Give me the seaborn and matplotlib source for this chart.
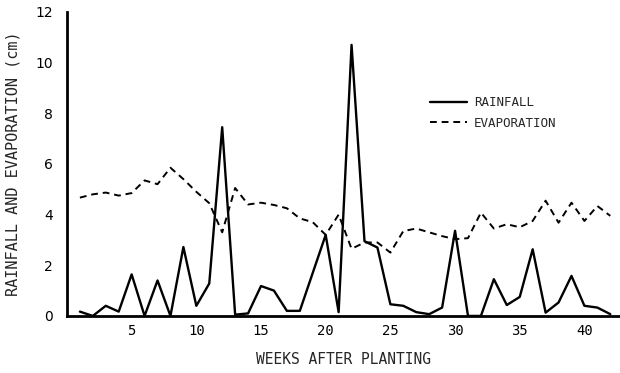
import numpy as np
import pandas as pd
import matplotlib
matplotlib.use("Agg")
import matplotlib.pyplot as plt
import seaborn as sns

weeks = list(range(1, 43))
rainfall = [0.17, 0.0, 0.4, 0.17, 1.64, 0.0, 1.4, 0.0, 2.72, 0.4,
            1.28, 7.45, 0.05, 0.1, 1.18, 1.0, 0.2, 0.2, 1.7, 3.2,
            0.15, 10.7, 2.95, 2.7, 0.46, 0.4, 0.15, 0.07, 0.33, 3.36,
            0.0, 0.0, 1.45, 0.43, 0.75, 2.63, 0.13, 0.53, 1.58, 0.4,
            0.33, 0.07]
evaporation = [4.67, 4.8, 4.87, 4.75, 4.85, 5.35, 5.2, 5.85, 5.4, 4.9,
               4.45, 3.3, 5.05, 4.4, 4.47, 4.38, 4.25, 3.85, 3.7, 3.2,
               4.0, 2.65, 2.9, 2.9, 2.5, 3.35, 3.45, 3.3, 3.15, 3.03,
               3.07, 4.08, 3.45, 3.62, 3.5, 3.75, 4.55, 3.68, 4.47, 3.75,
               4.34, 3.95]
x_ticks = [5, 10, 15, 20, 25, 30, 35, 40]
y_ticks = [0, 2, 4, 6, 8, 10, 12]

sns.set_style("white")
plt.rcParams['font.family'] = ['DejaVu Sans Mono', 'DejaVu Sans']

df = pd.DataFrame({"week": weeks, "RAINFALL": rainfall, "EVAPORATION": evaporation})

fig = plt.figure(figsize=(6.2, 3.73), dpi=100)
ax = fig.add_axes([0.108, 0.153, 0.892, 0.815])

sns.lineplot(data=df, x="week", y="RAINFALL", ax=ax, color="black",
             linewidth=1.7, label="RAINFALL")
sns.lineplot(data=df, x="week", y="EVAPORATION", ax=ax, color="black",
             linewidth=1.4, linestyle=(0, (3.5, 2.5)), label="EVAPORATION")

ax.set_xlim(0, 42.75)
ax.set_ylim(0, 12)
ax.set_xticks(x_ticks)
ax.set_yticks(y_ticks)
ax.set_xticklabels([str(t) for t in x_ticks], fontsize=10)
ax.set_yticklabels([str(t) for t in y_ticks], fontsize=10, family='DejaVu Sans')
ax.tick_params(axis='both', direction='in', length=5, width=1.3, colors='black', pad=6)
ax.tick_params(axis='y', pad=10)

for s in ['top', 'right']:
    ax.spines[s].set_visible(False)
for s in ['left', 'bottom']:
    ax.spines[s].set_linewidth(2.0)
    ax.spines[s].set_color('black')

ax.set_xlabel("WEEKS AFTER PLANTING", fontsize=10.5, labelpad=10)
ax.set_ylabel("RAINFALL AND EVAPORATION (cm)", fontsize=11, labelpad=11)

leg = ax.legend(loc='upper left', bbox_to_anchor=(0.636, 0.76), frameon=False,
                fontsize=9, handlelength=3.0, handletextpad=0.5, labelspacing=0.6)

fig.savefig("out.png", dpi=100)
